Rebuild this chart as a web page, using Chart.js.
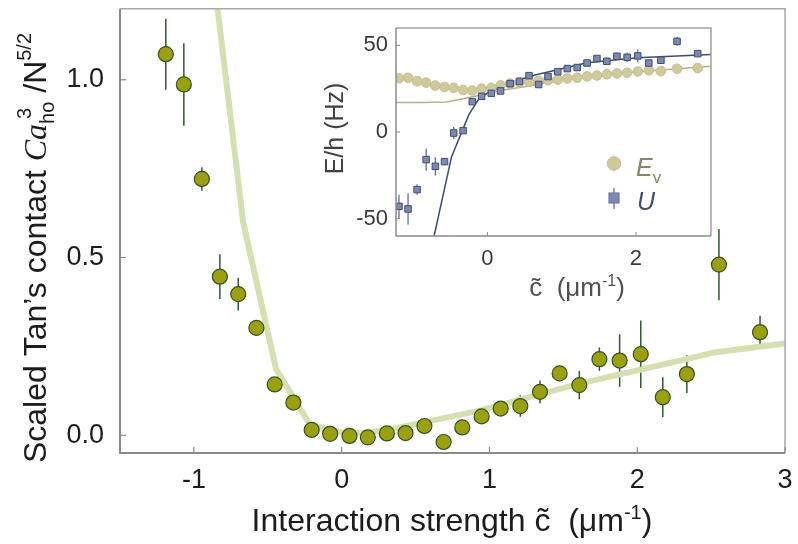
<!DOCTYPE html>
<html>
<head>
<meta charset="utf-8">
<script src="https://cdn.jsdelivr.net/npm/chart.js@4.4.1/dist/chart.umd.min.js"></script>
<style>
  html, body { margin: 0; padding: 0; background: #fff; }
  #wrap { position: relative; width: 798px; height: 544px; }
  #mainChart { position: absolute; left: 0; top: 0; }
  #insetChart { position: absolute; left: 300px; top: 10px; }
</style>
</head>
<body>
<div id="wrap">
  <canvas id="mainChart" width="798" height="544" style="width:798px;height:544px"></canvas>
  <canvas id="insetChart" width="430" height="300" style="width:430px;height:300px"></canvas>
</div>
<script>
// interaction strength (1/um) of each measurement, shared by both panels
const cTilde = [-1.19, -1.068, -0.946, -0.824, -0.70, -0.577, -0.453, -0.327, -0.203, -0.078,
                0.053, 0.177, 0.306, 0.432, 0.56, 0.69, 0.816, 0.947, 1.076, 1.209,
                1.342, 1.475, 1.608, 1.744, 1.881, 2.024, 2.173, 2.336, 2.553, 2.831];

// scaled Tan's contact and its uncertainty
const contact = [1.072, 0.987, 0.721, 0.446, 0.397, 0.302, 0.143, 0.092, 0.015, 0.004,
                 -0.002, -0.006, 0.005, 0.006, 0.026, -0.019, 0.022, 0.053, 0.075, 0.082,
                 0.122, 0.174, 0.141, 0.214, 0.210, 0.228, 0.107, 0.172, 0.480, 0.290];
const contactErr = [0.10, 0.116, 0.033, 0.063, 0.046, 0.015, 0.012, 0.012, 0.01, 0.01,
                    0.01, 0.01, 0.01, 0.01, 0.012, 0.012, 0.014, 0.016, 0.02, 0.03,
                    0.032, 0.022, 0.04, 0.033, 0.074, 0.095, 0.056, 0.053, 0.10, 0.046];

// theory curve for the contact
const theoryC = [-0.87, -0.667, -0.444, -0.214, 0.0, 0.15, 0.37, 0.94, 1.615, 2.29, 2.52, 3.0];
const theoryContact = [1.305, 0.60, 0.186, 0.029, 0.008, 0.006, 0.02, 0.07, 0.146, 0.21, 0.233, 0.258];

// inset: vacancy energy E_v and interaction energy U (Hz)
const evEnergy = [31.0, 31.3, 29.3, 28.5, 26.8, 26.0, 25.5, 24.2, 23.9, 25.0,
                  25.5, 26.9, 27.9, 28.7, 29.0, 29.5, 29.9, 30.2, 30.9, 31.3,
                  32.1, 32.6, 33.3, 33.8, 34.2, 34.9, 35.6, 35.1, 36.5, 36.9];
const evErr = evEnergy.map(() => 1.2);
const uEnergy = [-42.9, -44.4, -33.2, -15.9, -19.8, -17.1, -0.6, 0.8, 17.5, 20.6,
                 22.3, 23.7, 27.9, 29.2, 32.5, 27.4, 32.0, 34.8, 36.6, 37.2,
                 39.8, 42.4, 40.8, 43.7, 43.1, 43.9, 39.8, 41.4, 52.3, 45.2];
const uErr = [6.7, 9.0, 3.0, 6.4, 5.3, 2.0, 3.5, 2.0, 1.5, 1.5,
              1.5, 1.5, 1.5, 1.5, 1.5, 1.5, 1.5, 1.5, 1.5, 1.5,
              1.5, 1.5, 1.5, 2.0, 2.7, 3.8, 1.5, 1.5, 2.5, 1.5];

// inset theory lines
const uTheoryC = [-0.77, -0.717, -0.483, -0.249, -0.10, 0.03, 0.3, 0.6, 0.9, 1.34, 2.02, 3.02];
const uTheory = [-70, -60, -14.4, 10, 20.2, 23, 28.3, 32.5, 35.5, 40, 42.9, 44.8];
const evTheoryC = [-1.23, -0.87, -0.55, -0.28, -0.1, 0.17, 0.48, 0.9, 1.34, 2.02, 3.02];
const evTheory = [17, 17, 17.3, 19.6, 21.2, 23.9, 26, 29.3, 32.1, 34.8, 38];

// ticks
const mainXTicks = [-1, 0, 1, 2, 3];
const mainYTicks = [0, 0.5, 1.0];
const insetXTicks = [0, 2];
const insetYTicks = [-50, 0, 50];

const SANS = "'Liberation Sans', Arial, Helvetica, sans-serif";
const SERIF = "'Liberation Serif', 'Times New Roman', serif";

const pts = (xs, ys) => xs.map((x, i) => ({ x: x, y: ys[i] }));

// vertical error bars, drawn under the markers
function errorBarPlugin(sets) {
  return {
    id: 'errorBars',
    beforeDatasetsDraw(chart) {
      const { ctx, chartArea: a, scales: { x, y } } = chart;
      ctx.save();
      ctx.beginPath();
      ctx.rect(a.left, a.top - 40, a.right - a.left, a.bottom - a.top + 40);
      ctx.clip();
      sets.forEach(s => {
        ctx.strokeStyle = s.color;
        ctx.lineWidth = s.width;
        s.xs.forEach((xv, i) => {
          const px = x.getPixelForValue(xv);
          ctx.beginPath();
          ctx.moveTo(px, y.getPixelForValue(s.ys[i] - s.errs[i]));
          ctx.lineTo(px, y.getPixelForValue(s.ys[i] + s.errs[i]));
          ctx.stroke();
        });
      });
      ctx.restore();
    }
  };
}

// box around the plot with inward tick marks
function framePlugin(cfg) {
  return {
    id: 'frame',
    afterDatasetsDraw(chart) {
      const { ctx, chartArea: a, scales: { x, y } } = chart;
      ctx.save();
      ctx.strokeStyle = cfg.frameColor;
      ctx.lineWidth = cfg.frameWidth;
      ctx.beginPath();
      ctx.moveTo(a.left, a.top);
      ctx.lineTo(a.right, a.top);
      ctx.lineTo(a.right, a.bottom);
      ctx.stroke();
      ctx.strokeStyle = cfg.axisColor;
      ctx.lineWidth = cfg.axisWidth;
      ctx.beginPath();
      ctx.moveTo(a.left, a.top);
      ctx.lineTo(a.left, a.bottom);
      ctx.lineTo(a.right, a.bottom);
      ctx.stroke();
      ctx.lineWidth = cfg.tickWidth;
      x.ticks.forEach(t => {
        const px = x.getPixelForValue(t.value);
        ctx.beginPath();
        ctx.moveTo(px, a.bottom);
        ctx.lineTo(px, a.bottom - cfg.tickLen);
        ctx.stroke();
      });
      y.ticks.forEach(t => {
        const py = y.getPixelForValue(t.value);
        ctx.beginPath();
        ctx.moveTo(a.left, py);
        ctx.lineTo(a.left + cfg.tickLen, py);
        ctx.stroke();
      });
      ctx.restore();
    }
  };
}

// text made of pieces with their own font and baseline shift
function drawRich(ctx, parts, x, y, angle, align) {
  ctx.save();
  ctx.translate(x, y);
  ctx.rotate(angle);
  ctx.textBaseline = 'alphabetic';
  ctx.textAlign = 'left';
  let total = 0;
  parts.forEach(p => {
    ctx.font = p.font;
    p.w = ctx.measureText(p.text).width;
    if (p.advance !== false) total += p.w;
  });
  let cx = align === 'left' ? 0 : -total / 2;
  parts.forEach(p => {
    ctx.font = p.font;
    ctx.fillStyle = p.color;
    ctx.fillText(p.text, cx + (p.dx || 0), p.dy || 0);
    if (p.advance !== false) cx += p.w;
  });
  ctx.restore();
}

const fixedTicks = list => scale => { scale.ticks = list.map(v => ({ value: v })); };

// ---------- main panel ----------
const mainTitles = {
  id: 'mainTitles',
  afterDraw(chart) {
    const ctx = chart.ctx;
    const F = 32, f = 20, ink = '#1c1c1c';
    drawRich(ctx, [
      { text: 'Interaction strength c\u0303  (\u03bcm', font: F + 'px ' + SANS, color: ink },
      { text: '-1', font: f + 'px ' + SANS, color: ink, dy: -12 },
      { text: ')', font: F + 'px ' + SANS, color: ink }
    ], 452, 531, 0);
    drawRich(ctx, [
      { text: 'Scaled Tan\u2019s contact ', font: F + 'px ' + SANS, color: ink },
      { text: 'Ca', font: 'italic ' + F + 'px ' + SERIF, color: ink },
      { text: '3', font: f + 'px ' + SANS, color: ink, dy: -15, dx: 5, advance: false },
      { text: 'ho', font: f + 'px ' + SANS, color: ink, dy: 8 },
      { text: ' /N', font: F + 'px ' + SANS, color: ink },
      { text: '5/2', font: f + 'px ' + SANS, color: ink, dy: -15 }
    ], 46, 248, -Math.PI / 2);
  }
};

new Chart(document.getElementById('mainChart'), {
  type: 'scatter',
  data: {
    datasets: [
      {
        label: 'contact',
        data: pts(cTilde, contact),
        showLine: false,
        pointRadius: 7.5,
        pointBackgroundColor: '#9aa010',
        pointBorderColor: '#33541c',
        pointBorderWidth: 1.2
      },
      {
        label: 'theory',
        data: pts(theoryC, theoryContact),
        showLine: true,
        borderColor: '#d4e0b0',
        borderWidth: 6,
        pointRadius: 0,
        tension: 0,
        clip: 0
      }
    ]
  },
  options: {
    responsive: false,
    animation: false,
    layout: { padding: { top: 5, right: 13, left: 0, bottom: 0 } },
    plugins: { legend: { display: false }, tooltip: { enabled: false } },
    scales: {
      x: {
        type: 'linear', min: -1.5, max: 3,
        afterBuildTicks: fixedTicks(mainXTicks),
        afterFit: s => { s.height = 91; s.paddingLeft = 0; s.paddingRight = 0; },
        grid: { display: false, drawTicks: false },
        border: { display: false },
        ticks: { font: { family: SANS, size: 27 }, color: '#1c1c1c', padding: 11, callback: v => String(v), maxRotation: 0 }
      },
      y: {
        type: 'linear', min: -0.05, max: 1.2,
        afterBuildTicks: fixedTicks(mainYTicks),
        afterFit: s => { s.width = 120; s.paddingTop = 0; s.paddingBottom = 0; },
        grid: { display: false, drawTicks: false },
        border: { display: false },
        ticks: { font: { family: SANS, size: 27 }, color: '#1c1c1c', padding: 16, callback: v => v.toFixed(1) }
      }
    }
  },
  plugins: [
    errorBarPlugin([{ xs: cTilde, ys: contact, errs: contactErr, color: '#2f5a2c', width: 1.5 }]),
    framePlugin({ frameColor: '#a8a8a8', frameWidth: 1.5, axisColor: '#8a8a8a', axisWidth: 2, tickWidth: 1.2, tickLen: 6 }),
    mainTitles
  ]
});

// ---------- inset panel ----------
const insetDecor = {
  id: 'insetDecor',
  afterDraw(chart) {
    const ctx = chart.ctx;
    const ink = '#404040';
    drawRich(ctx, [{ text: 'E/h (Hz)', font: '25px ' + SANS, color: ink }], 43, 118.5, -Math.PI / 2);
    drawRich(ctx, [
      { text: 'c\u0303  (\u03bcm', font: '26px ' + SANS, color: '#505050' },
      { text: '-1', font: '16px ' + SANS, color: '#505050', dy: -10 },
      { text: ')', font: '26px ' + SANS, color: '#505050' }
    ], 277, 286, 0);

    // legend
    ctx.save();
    ctx.strokeStyle = '#e4e0cc';
    ctx.lineWidth = 1;
    ctx.beginPath(); ctx.moveTo(314, 144); ctx.lineTo(314, 163); ctx.stroke();
    ctx.fillStyle = '#cfc89b';
    ctx.strokeStyle = '#c3bc8f';
    ctx.beginPath(); ctx.arc(314, 153.5, 6.7, 0, Math.PI * 2); ctx.fill(); ctx.stroke();
    ctx.strokeStyle = '#5a6890';
    ctx.lineWidth = 1.2;
    ctx.beginPath(); ctx.moveTo(314, 178); ctx.lineTo(314, 199); ctx.stroke();
    ctx.fillStyle = '#7b8aae';
    ctx.strokeStyle = '#6a7aa0';
    ctx.fillRect(309, 183, 10, 10);
    ctx.strokeRect(309, 183, 10, 10);
    ctx.restore();
    drawRich(ctx, [
      { text: 'E', font: 'italic 25px ' + SANS, color: '#8a856a' },
      { text: 'v', font: '17px ' + SANS, color: '#8a856a', dy: 7 }
    ], 336, 165.5, 0, 'left');
    drawRich(ctx, [{ text: 'U', font: 'italic 25px ' + SANS, color: '#3f4c78' }], 337, 200, 0, 'left');
  }
};

new Chart(document.getElementById('insetChart'), {
  type: 'scatter',
  data: {
    datasets: [
      {
        label: 'U',
        data: pts(cTilde, uEnergy),
        showLine: false,
        pointStyle: 'rect',
        pointRadius: 4.6,
        pointBackgroundColor: '#7b8aae',
        pointBorderColor: '#3f4d76',
        pointBorderWidth: 1
      },
      {
        label: 'E_v',
        data: pts(cTilde, evEnergy),
        showLine: false,
        pointRadius: 4.8,
        pointBackgroundColor: '#d0c99c',
        pointBorderColor: '#c4bd90',
        pointBorderWidth: 1
      },
      {
        label: 'U theory',
        data: pts(uTheoryC, uTheory),
        showLine: true,
        borderColor: '#3d4b72',
        borderWidth: 1.5,
        pointRadius: 0,
        tension: 0,
        clip: 0
      },
      {
        label: 'E_v theory',
        data: pts(evTheoryC, evTheory),
        showLine: true,
        borderColor: '#b7b089',
        borderWidth: 1.5,
        pointRadius: 0,
        tension: 0,
        clip: 0
      }
    ]
  },
  options: {
    responsive: false,
    animation: false,
    layout: { padding: { top: 18, right: 19, left: 0, bottom: 0 } },
    plugins: { legend: { display: false }, tooltip: { enabled: false } },
    scales: {
      x: {
        type: 'linear', min: -1.23, max: 3.01,
        afterBuildTicks: fixedTicks(insetXTicks),
        afterFit: s => { s.height = 74; s.paddingLeft = 0; s.paddingRight = 0; },
        grid: { display: false, drawTicks: false },
        border: { display: false },
        ticks: { font: { family: SANS, size: 22 }, color: '#3a3a3a', padding: 10, callback: v => String(v), maxRotation: 0 }
      },
      y: {
        type: 'linear', min: -60, max: 60,
        afterBuildTicks: fixedTicks(insetYTicks),
        afterFit: s => { s.width = 96; s.paddingTop = 0; s.paddingBottom = 0; },
        grid: { display: false, drawTicks: false },
        border: { display: false },
        ticks: { font: { family: SANS, size: 22 }, color: '#3a3a3a', padding: 8, callback: v => String(v) }
      }
    }
  },
  plugins: [
    errorBarPlugin([
      { xs: cTilde, ys: evEnergy, errs: evErr, color: '#dcd7bd', width: 1 },
      { xs: cTilde, ys: uEnergy, errs: uErr, color: '#55648c', width: 1.2 }
    ]),
    framePlugin({ frameColor: '#a0a0a0', frameWidth: 1.5, axisColor: '#8a8a8a', axisWidth: 1.5, tickWidth: 1, tickLen: 4 }),
    insetDecor
  ]
});
</script>
</body>
</html>
